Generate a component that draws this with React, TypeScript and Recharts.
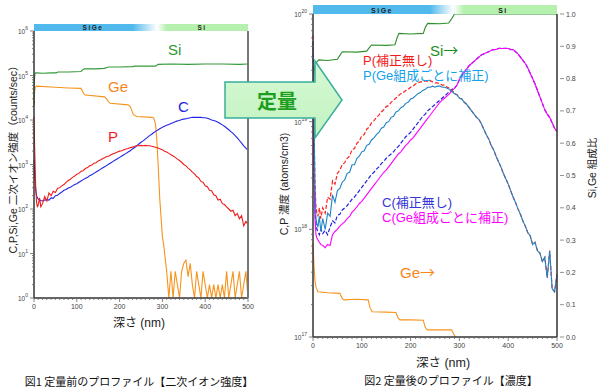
import React from 'react';
import { LineChart, Line, XAxis, YAxis } from 'recharts';

// depth sampling grid (nm) for the noisy profiles
const depthGrid = [0, 2, 4, 6, 8, 10, 13, 16, ...Array.from({ length: 97 }, (_, i) => 20 + i * 5)];

// ---- Fig.1 : raw secondary-ion intensity, values stored as log10(counts/sec)
const pLeftExp = [
  4.07, 3.2, 2.5, 2.15, 2.04, 2.1, 2.25, 2.05,
  2.12, 2.28, 2.18, 2.36, 2.3, 2.4, 2.37, 2.46, 2.48, 2.52,
  2.55, 2.6, 2.64, 2.67, 2.71, 2.74, 2.78, 2.8, 2.85, 2.86,
  2.91, 2.93, 2.97, 2.99, 3.03, 3.04, 3.08, 3.1, 3.13, 3.15,
  3.18, 3.19, 3.22, 3.24, 3.26, 3.28, 3.3, 3.31, 3.33, 3.35,
  3.36, 3.38, 3.39, 3.41, 3.42, 3.42, 3.43, 3.42, 3.43, 3.42,
  3.42, 3.41, 3.4, 3.38, 3.37, 3.35, 3.33, 3.3, 3.28, 3.25,
  3.22, 3.19, 3.16, 3.12, 3.09, 3.05, 3.0, 2.97, 2.92, 2.88,
  2.83, 2.79, 2.73, 2.7, 2.62, 2.6, 2.52, 2.5, 2.42, 2.41,
  2.32, 2.3, 2.2, 2.22, 2.12, 2.1, 2.05, 2.0, 1.95, 1.97,
  1.85, 1.9, 1.78, 1.85, 1.62, 1.72, 1.65,
];
const cLeftExp = [
  3.1, 2.7, 2.42, 2.3, 2.25, 2.22, 2.2, 2.19,
  2.18, 2.2, 2.21, 2.2, 2.25, 2.24, 2.3, 2.31, 2.35, 2.38,
  2.42, 2.44, 2.47, 2.49, 2.52, 2.55, 2.57, 2.6, 2.63, 2.66,
  2.69, 2.71, 2.75, 2.77, 2.8, 2.83, 2.86, 2.89, 2.92, 2.95,
  2.98, 3.01, 3.04, 3.07, 3.1, 3.13, 3.16, 3.19, 3.22, 3.25,
  3.28, 3.31, 3.35, 3.38, 3.42, 3.46, 3.5, 3.53, 3.57, 3.61,
  3.65, 3.68, 3.72, 3.75, 3.78, 3.81, 3.84, 3.86, 3.88, 3.9,
  3.92, 3.94, 3.96, 3.98, 3.99, 4.01, 4.02, 4.03, 4.04, 4.05,
  4.06, 4.06, 4.06, 4.06, 4.06, 4.05, 4.05, 4.04, 4.02, 4.0,
  3.99, 3.97, 3.95, 3.92, 3.89, 3.86, 3.82, 3.78, 3.74, 3.7,
  3.65, 3.6, 3.54, 3.48, 3.42, 3.37, 3.32,
];
const siLeftDepth = [0, 1, 2, 4, 6, 20, 40, 52, 56, 80, 110, 114, 118, 140, 165, 170, 175, 200, 230, 236, 260, 284, 290, 320, 360, 400, 440, 480, 500];
const siLeftExp = [4.35, 4.9, 5.02, 5.06, 5.06, 5.05, 5.06, 5.06, 5.08, 5.08, 5.09, 5.13, 5.15, 5.15, 5.16, 5.18, 5.19, 5.19, 5.2, 5.21, 5.21, 5.21, 5.25, 5.26, 5.25, 5.26, 5.26, 5.25, 5.26];
const geLeftDepth = [
  0, 1, 3, 6, 40, 80, 110, 113, 117, 120, 165, 170, 175, 178, 220, 225, 229, 232, 240, 276, 280, 284, 287, 290, 294, 297, 300, 303, 306,
  310, 315, 320, 325, 330, 335, 340, 345, 350, 355, 360, 365, 370, 375, 380, 385, 390, 395, 400, 405,
  410, 415, 420, 425, 430, 435, 440, 445, 450, 455, 460, 465, 470, 475, 480, 485, 490, 495, 500,
];
const geLeftExp = [
  4.29, 4.6, 4.74, 4.76, 4.74, 4.72, 4.71, 4.65, 4.58, 4.56, 4.52, 4.47, 4.4, 4.375, 4.34, 4.3, 4.2, 4.12, 4.08, 4.06, 4.04, 3.9, 3.55, 3.0, 2.2, 1.8, 1.38, 1.2, 0.93,
  0.6, 0, 0.6, 0, 0.6, 0.3, 0, 0.6, 0.78, 0.85, 0.48, 0.78, 0.3, 0, 0.6, 0.3, 0, 0.6, 0.3, 0,
  0.3, 0, 0.3, 0, 0.3, 0, 0.3, 0, 0.6, 0, 0.3, 0.6, 0, 0.3, 0.6, 0, 0.3, 0.6, 0,
];

// ---- Fig.2 : quantified concentration, log10(atoms/cm3); composition as fraction
const pCorrExp = [
  19.75, 19.0, 18.4, 18.1, 18.05, 18.02, 18.12, 17.98,
  18.1, 18.0, 18.15, 18.12, 18.32, 18.25, 18.36, 18.38, 18.44, 18.46,
  18.52, 18.53, 18.6, 18.6, 18.66, 18.68, 18.72, 18.73, 18.78, 18.79,
  18.83, 18.85, 18.88, 18.9, 18.94, 18.95, 18.99, 19.0, 19.04, 19.05,
  19.09, 19.1, 19.13, 19.14, 19.17, 19.18, 19.21, 19.22, 19.24, 19.26,
  19.27, 19.29, 19.3, 19.32, 19.32, 19.33, 19.32, 19.33, 19.33, 19.32,
  19.32, 19.31, 19.3, 19.28, 19.26, 19.25, 19.22, 19.21, 19.18, 19.16,
  19.13, 19.1, 19.07, 19.04, 19.02, 18.98, 18.93, 18.88, 18.84, 18.78,
  18.74, 18.68, 18.63, 18.58, 18.52, 18.47, 18.42, 18.36, 18.3, 18.25,
  18.19, 18.14, 18.08, 18.03, 17.97, 17.94, 17.86, 17.88, 17.8, 17.78,
  17.7, 17.74, 17.55, 17.8, 17.45, 17.42, 17.58,
];
// uncorrected P inside the SiGe layer (0-285 nm); in Si it equals the corrected one
const pRawSiGeExp = [
  19.8, 19.05, 18.45, 18.2, 18.15, 18.12, 18.2, 18.1,
  18.2, 18.15, 18.3, 18.28, 18.45, 18.42, 18.52, 18.55, 18.6, 18.62,
  18.66, 18.68, 18.74, 18.75, 18.8, 18.82, 18.87, 18.88, 18.93, 18.95,
  18.99, 19.01, 19.04, 19.06, 19.09, 19.11, 19.14, 19.15, 19.18, 19.2,
  19.22, 19.24, 19.26, 19.27, 19.29, 19.3, 19.32, 19.33, 19.35, 19.36,
  19.37, 19.37, 19.38, 19.37, 19.38, 19.37, 19.36, 19.36, 19.35, 19.34,
  19.34, 19.32, 19.31, 19.29,
];
const cCorrExp = [
  19.2, 18.5, 18.1, 17.95, 17.92, 17.9, 17.88, 17.86,
  17.85, 17.83, 17.86, 17.85, 17.95, 17.98, 18.0, 18.03, 18.05, 18.07,
  18.1, 18.12, 18.16, 18.18, 18.21, 18.24, 18.26, 18.29, 18.32, 18.35,
  18.38, 18.41, 18.44, 18.47, 18.5, 18.53, 18.55, 18.58, 18.61, 18.64,
  18.67, 18.7, 18.72, 18.75, 18.78, 18.8, 18.83, 18.85, 18.88, 18.91,
  18.94, 18.97, 19.0, 19.03, 19.06, 19.09, 19.12, 19.15, 19.18, 19.2,
  19.22, 19.24, 19.26, 19.29, 19.31, 19.34, 19.39, 19.43, 19.46, 19.49,
  19.52, 19.54, 19.56, 19.58, 19.6, 19.62, 19.63, 19.64, 19.65, 19.66,
  19.67, 19.67, 19.68, 19.68, 19.68, 19.68, 19.68, 19.67, 19.67, 19.65,
  19.63, 19.6, 19.57, 19.54, 19.5, 19.45, 19.4, 19.35, 19.29, 19.23,
  19.17, 19.11, 19.07, 19.04, 18.99, 18.94, 18.91,
];
const cRawSiGeExp = [
  19.3, 18.6, 18.2, 18.05, 18.0, 17.98, 17.95, 18.0,
  17.96, 17.99, 17.95, 18.02, 18.08, 18.06, 18.13, 18.14, 18.18, 18.2,
  18.22, 18.25, 18.28, 18.3, 18.33, 18.36, 18.39, 18.42, 18.45, 18.48,
  18.51, 18.53, 18.56, 18.58, 18.61, 18.63, 18.66, 18.68, 18.7, 18.72,
  18.75, 18.77, 18.8, 18.83, 18.86, 18.88, 18.9, 18.93, 18.96, 18.99,
  19.02, 19.05, 19.07, 19.1, 19.12, 19.14, 19.16, 19.18, 19.2, 19.22,
  19.24, 19.26, 19.28, 19.3,
];
const siRightDepth = [0, 2, 4, 8, 12, 30, 50, 55, 60, 90, 110, 115, 120, 150, 168, 172, 176, 200, 226, 230, 235, 260, 278, 284, 290, 500];
const siRight = [0.78, 0.82, 0.84, 0.852, 0.858, 0.856, 0.86, 0.872, 0.883, 0.882, 0.885, 0.895, 0.904, 0.903, 0.905, 0.925, 0.94, 0.938, 0.94, 0.958, 0.971, 0.97, 0.972, 0.985, 1.0, 1.0];
const geRightDepth = [0, 2, 4, 6, 10, 30, 55, 59, 63, 90, 113, 117, 121, 150, 170, 174, 178, 200, 226, 230, 234, 260, 284, 288, 292];
const geRight = [0.29, 0.22, 0.175, 0.155, 0.14, 0.137, 0.135, 0.122, 0.115, 0.117, 0.115, 0.09, 0.078, 0.077, 0.076, 0.06, 0.053, 0.053, 0.052, 0.03, 0.022, 0.022, 0.022, 0.01, 0];

const pRawExp = [...pRawSiGeExp, ...pCorrExp.slice(pRawSiGeExp.length)];
const cRawExp = [...cRawSiGeExp, ...cCorrExp.slice(cRawSiGeExp.length)];

const leftRows = depthGrid.map((d, i) => ({ d, p: 10 ** pLeftExp[i], c: 10 ** cLeftExp[i] }));
const siLeftRows = siLeftDepth.map((d, i) => ({ d, v: 10 ** siLeftExp[i] }));
const geLeftRows = geLeftDepth.map((d, i) => ({ d, v: 10 ** geLeftExp[i] }));
const rightRows = depthGrid.map((d, i) => ({
  d,
  pCorr: 10 ** pCorrExp[i],
  pRaw: 10 ** pRawExp[i],
  cCorr: 10 ** cCorrExp[i],
  cRaw: 10 ** cRawExp[i],
}));
const siRightRows = siRightDepth.map((d, i) => ({ d, v: siRight[i] }));
const geRightRows = geRightDepth.map((d, i) => ({ d, v: geRight[i] }));

const depthTicks = Array.from({ length: 51 }, (_, i) => i * 10);
const logTicks = (from: number, to: number) => {
  const t: number[] = [];
  for (let e = from; e < to; e++) for (let m = 1; m < 10; m++) t.push(m * 10 ** e);
  t.push(10 ** to);
  return t;
};
const countTicks = logTicks(0, 6);
const concTicks = logTicks(17, 20);
const fracTicks = Array.from({ length: 11 }, (_, i) => i / 10);

const AX = '#333';
const TICK_FONT = "'Liberation Sans', Arial, sans-serif";
const MIX = "'Liberation Sans', 'Noto Sans CJK JP', sans-serif";
const JP = "'Noto Sans CJK JP', sans-serif";

function LogTick(props: any) {
  const { x, y, payload } = props;
  const e = Math.log10(Number(payload.value));
  const major = Math.abs(e - Math.round(e)) < 1e-6;
  return (
    <g>
      <line x1={x} x2={x - (major ? 4 : 2)} y1={y} y2={y} stroke="#666" strokeWidth={0.8} />
      {major ? (
        <text x={x - 6} y={y + 3} textAnchor="end" fontSize={6.5} fill="#444" fontFamily={TICK_FONT}>
          10<tspan dy={-4} fontSize={5}>{Math.round(e)}</tspan>
        </text>
      ) : null}
    </g>
  );
}

function DepthTick(props: any) {
  const { x, y, payload } = props;
  const v = Number(payload.value);
  const major = v % 100 === 0;
  return (
    <g>
      <line x1={x} x2={x} y1={y} y2={y + (major ? 4 : 2)} stroke="#666" strokeWidth={0.8} />
      {major ? (
        <text x={x} y={y + 11} textAnchor="middle" fontSize={7} fill="#444" fontFamily={TICK_FONT}>{v}</text>
      ) : null}
    </g>
  );
}

function FracTick(props: any) {
  const { x, y, payload } = props;
  return (
    <g>
      <line x1={x + 3} x2={x + 7} y1={y} y2={y} stroke="#777" strokeWidth={0.8} />
      <text x={x + 9} y={y + 2.5} fontSize={7} fill="#444" fontFamily={TICK_FONT}>
        {Number(payload.value).toFixed(1)}
      </text>
    </g>
  );
}

const axisLine = { stroke: AX, strokeWidth: 1.5 };

function LeftChart() {
  return (
    <LineChart width={270} height={316} data={leftRows} margin={{ top: 31, right: 21, bottom: 6, left: 0 }}>
      <XAxis dataKey="d" type="number" domain={[0, 500]} ticks={depthTicks} interval={0} height={12}
        tickSize={0} tickMargin={0} tickLine={false} axisLine={axisLine} tick={(p: any) => <DepthTick {...p} />} />
      <YAxis yAxisId="cnt" scale="log" domain={[1, 1e6]} ticks={countTicks} interval={0} width={34}
        tickSize={0} tickMargin={0} tickLine={false} axisLine={axisLine} tick={(p: any) => <LogTick {...p} />} />
      <YAxis yAxisId="frame" orientation="right" domain={[0, 1]} width={1} tick={false} tickLine={false}
        axisLine={{ stroke: '#777', strokeWidth: 2 }} />
      <Line yAxisId="cnt" data={geLeftRows} dataKey="v" stroke="#f7941d" strokeWidth={1.1} dot={false} isAnimationActive={false} />
      <Line yAxisId="cnt" data={siLeftRows} dataKey="v" stroke="#33993a" strokeWidth={1.1} dot={false} isAnimationActive={false} />
      <Line yAxisId="cnt" dataKey="c" stroke="#2424e8" strokeWidth={1.1} dot={false} isAnimationActive={false} />
      <Line yAxisId="cnt" dataKey="p" stroke="#f01c1c" strokeWidth={1.1} dot={false} isAnimationActive={false} />
    </LineChart>
  );
}

function RightChart() {
  return (
    <LineChart width={330} height={356} data={rightRows} margin={{ top: 14, right: 0, bottom: 4, left: 0 }}>
      <XAxis dataKey="d" type="number" domain={[0, 500]} ticks={depthTicks} interval={0} height={15}
        tickSize={0} tickMargin={0} tickLine={false} axisLine={axisLine} tick={(p: any) => <DepthTick {...p} />} />
      <YAxis yAxisId="conc" scale="log" domain={[1e17, 1e20]} ticks={concTicks} interval={0} width={43}
        tickSize={0} tickMargin={0} tickLine={false} axisLine={axisLine} tick={(p: any) => <LogTick {...p} />} />
      <YAxis yAxisId="frac" orientation="right" domain={[0, 1]} ticks={fracTicks} interval={0} width={43}
        tickSize={0} tickMargin={0} tickLine={false} axisLine={axisLine} tick={(p: any) => <FracTick {...p} />} />
      <Line yAxisId="frac" data={geRightRows} dataKey="v" stroke="#f7941d" strokeWidth={1.1} dot={false} isAnimationActive={false} />
      <Line yAxisId="frac" data={siRightRows} dataKey="v" stroke="#2f8f2f" strokeWidth={1.1} dot={false} isAnimationActive={false} />
      <Line yAxisId="conc" dataKey="cRaw" stroke="#2020e0" strokeWidth={1.2} strokeDasharray="4 2" dot={false} isAnimationActive={false} />
      <Line yAxisId="conc" dataKey="cCorr" stroke="#ff00ff" strokeWidth={1.1} dot={false} isAnimationActive={false} />
      <Line yAxisId="conc" dataKey="pRaw" stroke="#ff2020" strokeWidth={1.2} strokeDasharray="4 2" dot={false} isAnimationActive={false} />
      <Line yAxisId="conc" dataKey="pCorr" stroke="#1f84c4" strokeWidth={1.1} dot={false} isAnimationActive={false} />
    </LineChart>
  );
}

function Overlay() {
  return (
    <svg width={600} height={391} style={{ position: 'absolute', left: 0, top: 0, pointerEvents: 'none' }}>
      <defs>
        <linearGradient id="bandL" x1="0" x2="1" y1="0" y2="0">
          <stop offset="0" stopColor="#52b9ec" />
          <stop offset="0.46" stopColor="#52b9ec" />
          <stop offset="0.575" stopColor="#ffffff" />
          <stop offset="0.62" stopColor="#b5f0ae" />
          <stop offset="1" stopColor="#b5f0ae" />
        </linearGradient>
        <linearGradient id="bandR" x1="0" x2="1" y1="0" y2="0">
          <stop offset="0" stopColor="#52b9ec" />
          <stop offset="0.48" stopColor="#52b9ec" />
          <stop offset="0.575" stopColor="#ffffff" />
          <stop offset="0.62" stopColor="#b5f0ae" />
          <stop offset="1" stopColor="#b5f0ae" />
        </linearGradient>
        <linearGradient id="arrowFill" x1="0" x2="0" y1="0" y2="1">
          <stop offset="0" stopColor="#d6f9d4" />
          <stop offset="1" stopColor="#c2f2c0" />
        </linearGradient>
      </defs>

      {/* layer bands */}
      <rect x={34} y={24} width={214} height={7} fill="url(#bandL)" />
      <text x={93} y={30} fontSize={6.5} fontWeight="bold" letterSpacing={1.5} textAnchor="middle" fill="#222" fontFamily={TICK_FONT}>SiGe</text>
      <text x={202} y={30} fontSize={6.5} fontWeight="bold" letterSpacing={1.5} textAnchor="middle" fill="#222" fontFamily={TICK_FONT}>Si</text>
      <rect x={313} y={5} width={244} height={9} fill="url(#bandR)" />
      <text x={382} y={12.5} fontSize={7} fontWeight="bold" letterSpacing={1.5} textAnchor="middle" fill="#222" fontFamily={TICK_FONT}>SiGe</text>
      <text x={503} y={12.5} fontSize={7} fontWeight="bold" letterSpacing={1.5} textAnchor="middle" fill="#222" fontFamily={TICK_FONT}>Si</text>

      {/* axis titles */}
      <text transform="translate(17,157) rotate(-90)" textAnchor="middle" fontSize={10.5} fill="#222" fontFamily={MIX}>
        C,P,Si,Ge 二次イオン強度（counts/sec）
      </text>
      <text x={139} y={327} textAnchor="middle" fontSize={12} fill="#222" fontFamily={MIX}>深さ (nm)</text>
      <text transform="translate(288,184) rotate(-90)" textAnchor="middle" fontSize={10.5} fill="#222" fontFamily={MIX}>
        C,P 濃度 (atoms/cm3)
      </text>
      <text transform="translate(596,168) rotate(-90)" textAnchor="middle" fontSize={10.5} fill="#222" fontFamily={MIX}>
        Si,Ge 組成比
      </text>
      <text x={443} y={367} textAnchor="middle" fontSize={12.5} fill="#222" fontFamily={MIX}>深さ (nm)</text>

      {/* series labels, fig.1 */}
      <text x={168} y={55} fontSize={15} fill="#2f962f" fontFamily={TICK_FONT}>Si</text>
      <text x={108} y={92} fontSize={15} fill="#f7861a" fontFamily={TICK_FONT}>Ge</text>
      <text x={178} y={112} fontSize={15} fill="#2323dc" fontFamily={TICK_FONT}>C</text>
      <text x={108} y={142} fontSize={15} fill="#f01c1c" fontFamily={TICK_FONT}>P</text>

      {/* series labels, fig.2 */}
      <text x={430} y={56} fontSize={15} fill="#1f8f1f" fontFamily={MIX}>Si<tspan fontFamily={JP}>→</tspan></text>
      <text x={363} y={64.5} fontSize={13} fill="#f01c1c" fontFamily={MIX}>P(補正無し)</text>
      <text x={363} y={80} fontSize={13} fill="#14a2ea" fontFamily={MIX}>P(Ge組成ごとに補正)</text>
      <text x={382} y={206.5} fontSize={13} fill="#3535d5" fontFamily={MIX}>C(補正無し)</text>
      <text x={382} y={222} fontSize={13} fill="#ff00ff" fontFamily={MIX}>C(Ge組成ごとに補正)</text>
      <text x={400} y={278} fontSize={15} fill="#f7861a" fontFamily={MIX}>Ge<tspan fontFamily={JP}>→</tspan></text>

      {/* quantification arrow */}
      <polygon points="225,82 315,82 315,61 342,100 315,138 315,118 225,118" fill="url(#arrowFill)" stroke="#3aae9c" strokeWidth={1.5} />
      <text x={277} y={109} textAnchor="middle" fontSize={20} fontWeight="bold" fill="#1e9e1e" fontFamily={JP}>定量</text>

      {/* captions */}
      <text x={139} y={386} textAnchor="middle" fontSize={11} fill="#111" fontFamily={JP}>図1 定量前のプロファイル【二次イオン強度】</text>
      <text x={451} y={385} textAnchor="middle" fontSize={11} fill="#111" fontFamily={JP}>図2 定量後のプロファイル【濃度】</text>
    </svg>
  );
}

export default function App() {
  return (
    <div style={{ position: 'absolute', left: 0, top: 0, width: 600, height: 391, background: '#fff', overflow: 'hidden' }}>
      <div style={{ position: 'absolute', left: 0, top: 0 }}>
        <LeftChart />
      </div>
      <div style={{ position: 'absolute', left: 270, top: 0 }}>
        <RightChart />
      </div>
      <Overlay />
    </div>
  );
}
